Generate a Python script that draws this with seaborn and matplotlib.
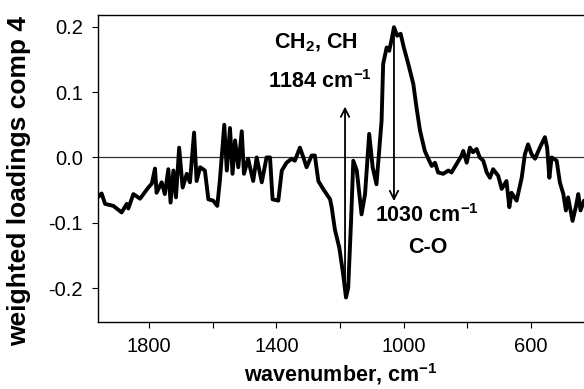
import matplotlib
matplotlib.use("Agg")
import matplotlib.pyplot as plt
import seaborn as sns
import pandas as pd

wavenumber = [1962, 1950, 1939, 1913, 1887, 1871, 1866, 1850, 1829, 1803, 1792, 1782,
              1777, 1761, 1751, 1740, 1733, 1724, 1716, 1706, 1695, 1682, 1672, 1659,
              1651, 1640, 1625, 1614, 1599, 1586, 1578, 1564, 1556, 1546, 1538, 1530,
              1520, 1509, 1502, 1489, 1473, 1462, 1446, 1431, 1420, 1412, 1394, 1383,
              1368, 1352, 1342, 1326, 1315, 1305, 1289, 1279, 1268, 1253, 1231, 1226,
              1216, 1202, 1190, 1181, 1174, 1165, 1158, 1147, 1132, 1121, 1108, 1097,
              1085, 1069, 1064, 1053, 1045, 1037, 1030, 1020, 1009, 999, 985, 969,
              959, 948, 933, 922, 911, 901, 891, 875, 859, 849, 833, 817, 812, 801,
              791, 781, 770, 760, 749, 738, 728, 718, 702, 691, 676, 667, 660, 644,
              628, 618, 608, 597, 586, 571, 555, 548, 541, 534, 518, 508, 497, 489,
              482, 468, 457, 450, 443, 432]
loading = [-0.061, -0.055, -0.071, -0.074, -0.084, -0.071, -0.078, -0.056, -0.063, -0.046,
           -0.040, -0.017, -0.054, -0.038, -0.056, -0.018, -0.069, -0.020, -0.061, 0.015,
           -0.046, -0.025, -0.038, 0.038, -0.036, -0.015, -0.020, -0.064, -0.066, -0.074,
           -0.036, 0.050, -0.020, 0.045, -0.025, 0.026, -0.015, 0.040, -0.025, -0.002,
           -0.036, 0.000, -0.038, 0.000, 0.000, -0.064, -0.066, -0.020, -0.008, -0.002,
           -0.005, 0.015, 0.000, -0.015, 0.003, 0.003, -0.036, -0.048, -0.064, -0.076,
           -0.110, -0.138, -0.178, -0.214, -0.199, -0.097, -0.005, -0.020, -0.087, -0.056,
           0.036, -0.015, -0.041, 0.056, 0.143, 0.168, 0.163, 0.181, 0.199, 0.186,
           0.189, 0.168, 0.143, 0.112, 0.076, 0.041, 0.010, -0.002, -0.013, -0.008,
           -0.023, -0.025, -0.020, -0.023, -0.010, 0.003, 0.010, -0.008, 0.015, 0.008,
           0.013, 0.000, -0.005, -0.023, -0.031, -0.018, -0.028, -0.048, -0.036, -0.076,
           -0.054, -0.066, -0.031, 0.005, 0.020, 0.005, -0.002, 0.015, 0.031, 0.015,
           -0.031, 0.000, -0.005, -0.038, -0.056, -0.081, -0.061, -0.097, -0.074, -0.056,
           -0.081, -0.066]

xtick_values = [1800, 1600, 1400, 1200, 1000, 800, 600]
xtick_labels = ["1800", "", "1400", "", "1000", "", "600"]
ytick_values = [-0.2, -0.1, 0.0, 0.1, 0.2]
ytick_labels = ["-0.2", "-0.1", "0.0", "0.1", "0.2"]

sns.set_theme(style="ticks")
plt.rcParams["font.family"] = ["Liberation Sans", "DejaVu Sans"]
plt.rcParams["text.color"] = "black"
plt.rcParams["axes.labelcolor"] = "black"
plt.rcParams["xtick.color"] = "black"
plt.rcParams["ytick.color"] = "black"
plt.rcParams["mathtext.fontset"] = "custom"
plt.rcParams["mathtext.rm"] = "Liberation Sans:bold"
plt.rcParams["mathtext.bf"] = "Liberation Sans:bold"
plt.rcParams["mathtext.it"] = "Liberation Sans:bold"

df = pd.DataFrame({"wavenumber": wavenumber, "loading": loading})

fig = plt.figure(figsize=(5.84, 3.89), dpi=100)
ax = fig.add_axes([0.168, 0.173, 0.832, 0.789])

ax.axhline(0, color="#333333", lw=0.9, zorder=1)
sns.lineplot(data=df, x="wavenumber", y="loading", estimator=None, sort=False,
             color="black", lw=2.8, ax=ax, zorder=3)

ax.set_xlim(1961, 432)
ax.set_ylim(-0.251, 0.218)
ax.set_xticks(xtick_values)
ax.set_xticklabels(xtick_labels)
ax.set_yticks(ytick_values)
ax.set_yticklabels(ytick_labels)
ax.tick_params(axis="both", direction="out", length=4, width=0.8, labelsize=14.5,
               color="black", labelcolor="black")
ax.tick_params(axis="x", pad=7)
ax.tick_params(axis="y", pad=7)

for s in ["left", "bottom", "top"]:
    ax.spines[s].set_visible(True)
    ax.spines[s].set_color("black")
    ax.spines[s].set_linewidth(1.0)
ax.spines["right"].set_visible(False)

ax.set_xlabel(r"wavenumber, cm$^{-1}$", fontsize=15.5, fontweight="bold", labelpad=4)
ax.set_ylabel("weighted loadings comp 4", fontsize=19, fontweight="bold")
ax.yaxis.set_label_coords(-0.138, 0.457)

ax.annotate("", xy=(1184, 0.082), xytext=(1184, -0.212),
            arrowprops=dict(arrowstyle="->", color="black", lw=1.3, mutation_scale=15), zorder=2)
ax.annotate("", xy=(1030, -0.071), xytext=(1030, 0.199),
            arrowprops=dict(arrowstyle="->", color="black", lw=1.3, mutation_scale=15), zorder=2)

ax.text(1275, 0.175, r"CH$_{2}$, CH", ha="center", va="center", fontsize=15.5, fontweight="bold")
ax.text(1263, 0.116, r"1184 cm$^{-1}$", ha="center", va="center", fontsize=15.5, fontweight="bold")
ax.text(926, -0.089, r"1030 cm$^{-1}$", ha="center", va="center", fontsize=15.5, fontweight="bold")
ax.text(923, -0.138, "C-O", ha="center", va="center", fontsize=15.5, fontweight="bold")

fig.savefig("out.png", dpi=100)
